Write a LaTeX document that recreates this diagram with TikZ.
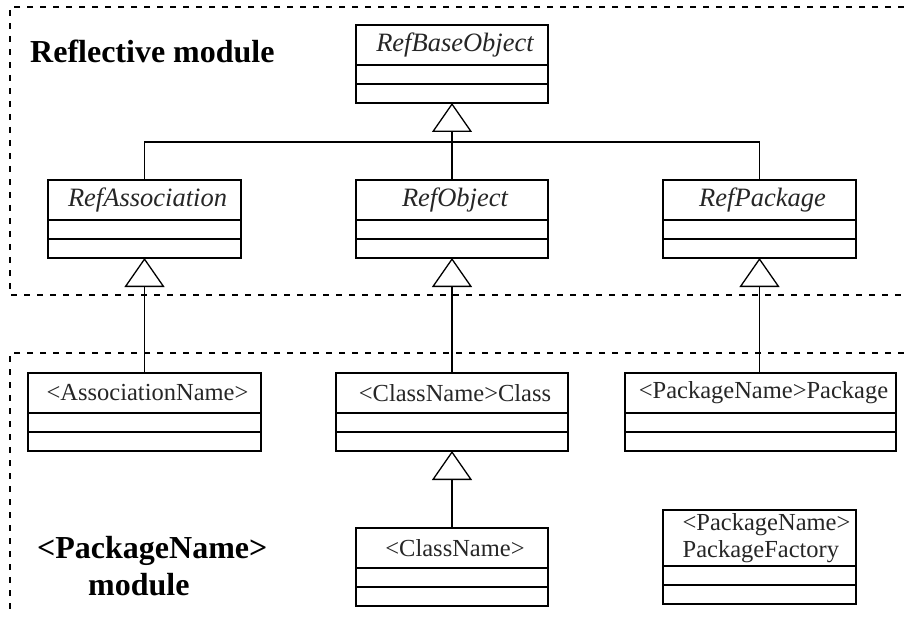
\documentclass[tikz,border=0pt]{standalone}
\usepackage{fontspec}
\setmainfont{Liberation Serif}
\usepackage{tikz}
\usetikzlibrary{arrows.meta}

\tikzset{
	classbox/.style={draw, line width=1.3pt, inner sep=0pt, outer sep=0pt, anchor=north},
	classname/.style={inner sep=0pt, font=\fontsize{24.5}{27}\selectfont, text=black!85},
	abstractname/.style={classname, font=\fontsize{26.5}{30}\selectfont\itshape},
	modulelabel/.style={inner sep=0pt, anchor=base west, font=\fontsize{32}{38}\selectfont\bfseries},
	module/.style={line width=1.1pt, dash pattern=on 6pt off 7pt},
	inherit/.style={-{Triangle[open, width=40pt, length=29pt]}, line width=1.3pt},
	link/.style={line width=1.3pt}
}

% name, centre x, top y, width, title height, title
\newcommand{\UmlClass}[6][classname]{%
	\pgfmathsetmacro\classh{#5+38}
	\pgfmathsetmacro\classd{#5+19}
	\node[classbox, minimum width=#4pt, minimum height=\classh pt] (#2) at (#3) {};
	\draw[line width=1.3pt] ([yshift=-#5pt]#2.north west) -- ([yshift=-#5pt]#2.north east);
	\draw[line width=1.3pt] ([yshift=-\classd pt]#2.north west) -- ([yshift=-\classd pt]#2.north east);
	\path (#2.north) ++(3,#5/2) node[#1] (#2-title) {#6};
}

\begin{document}
\begin{tikzpicture}[x=1pt, y=-1pt]
	\useasboundingbox (0,0) rectangle (904,620);

	\draw[module] (904,7) -- (10,7) -- (10,295) -- (904,295);
	\draw[module] (904,353) -- (10,353) -- (10,612);

	\node[modulelabel] (reflbl) at (30,63) {Reflective module};
	\node[modulelabel] (pkglbl) at (37,558) {<PackageName>};
	\node[modulelabel] (pkgmod) at (88,595) {module};

	\UmlClass[abstractname]{base}{452,25}{192}{40}{RefBaseObject}
	\UmlClass[abstractname]{refassoc}{144.5,180}{193}{40}{RefAssociation}
	\UmlClass[abstractname]{refobj}{452,180}{192}{40}{RefObject}
	\UmlClass[abstractname]{refpkg}{759.5,180}{193}{40}{RefPackage}

	\UmlClass{assoc}{144.5,373}{233}{40}{<AssociationName>}
	\UmlClass{cls}{452,373}{232}{40}{<ClassName>Class}
	\UmlClass{pkg}{760.5,373}{271}{40}{<PackageName>Package}
	\UmlClass{inst}{452,528}{192}{40}{<ClassName>}
	\UmlClass[classname, align=left, xshift=4pt]{factory}{759.5,510}{193}{56}{<PackageName>\\PackageFactory}

	\coordinate (bus) at (452,142);
	\draw[inherit] (refobj.north) -- (base.south);
	\draw[link] (refassoc.north) |- (bus) -| (refpkg.north);
	\draw[inherit] (assoc.north) -- (refassoc.south);
	\draw[inherit] (cls.north) -- (refobj.south);
	\draw[inherit] (refpkg.south |- pkg.north) -- (refpkg.south);
	\draw[inherit] (inst.north) -- (cls.south);
\end{tikzpicture}
\end{document}
